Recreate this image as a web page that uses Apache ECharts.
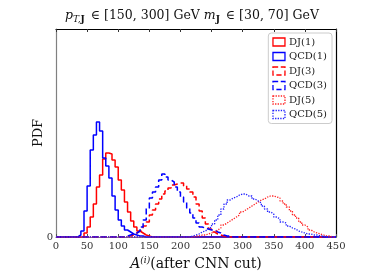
<!DOCTYPE html>
<html>
<head>
<meta charset="utf-8">
<script src="https://cdn.jsdelivr.net/npm/echarts@6/dist/echarts.min.js"></script>
<style>
html,body{margin:0;padding:0;background:#fff;}
#chart{width:374px;height:280px;}
</style>
</head>
<body>
<div id="chart"></div>
<script>
// histogram bins of width 5, values in arbitrary PDF units
var binWidth = 5;
var xMin = 0, xMax = 450;
var yMax = 208;
var xTicks = [0, 50, 100, 150, 200, 250, 300, 350, 400, 450];
var names = ['DJ(1)', 'QCD(1)', 'DJ(3)', 'QCD(3)', 'DJ(5)', 'QCD(5)'];

// first bin left edge + bin heights
var dj1Start = 45;
var dj1 = [4, 10, 20, 33, 50, 62, 78, 84, 83, 77, 70, 57, 47, 35, 25, 16, 10, 6, 4, 2, 1];
var qcd1Start = 35;
var qcd1 = [2, 6, 26, 51, 87, 102, 115, 106, 79, 71, 59, 41, 27, 17, 11, 7, 5, 3, 2, 1, 1];
var dj3Start = 110;
var dj3 = [1, 1, 2, 4, 6, 8, 11, 15, 22, 27, 33, 38, 43, 46, 49, 52, 53, 54, 54, 51, 48, 45, 40, 33, 26, 19, 13, 8, 5, 3, 2, 1];
var qcd3Start = 110;
var qcd3 = [1, 2, 3, 4, 6, 10, 17, 29, 39, 45, 50, 57, 63, 60, 57, 55, 50, 45, 40, 35, 29, 24, 19, 14, 10, 9, 8, 7, 7, 5, 4, 2, 1, 1];
var dj5Start = 220;
var dj5 = [1, 1, 2, 2, 3, 4, 5, 7, 9, 12, 14, 16, 18, 20, 22, 25, 27, 29, 31, 33, 35, 37, 38, 40, 41, 41, 40, 39, 36, 33, 30, 26, 22, 19, 15, 12, 10, 7, 5, 4, 3, 2, 1, 1];
var qcd5Start = 215;
var qcd5 = [1, 2, 3, 5, 6, 8, 10, 13, 17, 22, 28, 33, 37, 39, 40, 42, 43, 43, 41, 41, 38, 36, 34, 31, 28, 25, 23, 20, 18, 15, 14, 11, 9, 8, 6, 5, 4, 3, 3, 2, 2, 1, 1];

var colors = ['#ff0000', '#0000ff', '#ff0000', '#0000ff', '#ff2020', '#2020ff'];
var lineTypes = ['solid', 'solid', 'dashed', 'dashed', 'dotted', 'dotted'];
var serif = '"DejaVu Serif", "Liberation Serif", serif';

// pad with zeros over the full range, one point per bin left edge, step drawn by the library
function histPoints(start, vals) {
    var pts = [];
    for (var x = xMin; x < xMax; x += binWidth) {
        var i = Math.round((x - start) / binWidth);
        var v = (i >= 0 && i < vals.length) ? vals[i] : 0;
        pts.push([x, v]);
    }
    pts.push([xMax, pts[pts.length - 1][1]]);
    return pts;
}

var hists = [[dj1Start, dj1], [qcd1Start, qcd1], [dj3Start, dj3], [qcd3Start, qcd3], [dj5Start, dj5], [qcd5Start, qcd5]];

var series = hists.map(function (h, k) {
    return {
        name: names[k],
        type: 'line',
        step: 'end',
        showSymbol: false,
        silent: true,
        data: histPoints(h[0], h[1]),
        lineStyle: {
            color: colors[k],
            width: lineTypes[k] === 'dotted' ? 1.3 : 1.5,
            type: lineTypes[k]
        },
        itemStyle: {color: colors[k]}
    };
});

var option = {
    animation: false,
    backgroundColor: '#fff',
    title: {
        text: '{i|p}{s|T,}{b|J} ∈ [150, 300] GeV {i|m}{b|J} ∈ [30, 70] GeV',
        left: 187,
        textAlign: 'center',
        top: 3,
        textStyle: {
            fontFamily: serif,
            fontSize: 12.5,
            fontWeight: 'normal',
            color: '#111',
            rich: {
                i: {fontFamily: serif, fontSize: 12.5, fontStyle: 'italic', color: '#111'},
                s: {fontFamily: serif, fontSize: 9, fontStyle: 'italic', color: '#111', padding: [7, 0, 0, 0]},
                b: {fontFamily: serif, fontSize: 9, fontWeight: 'bold', color: '#111', padding: [7, 2, 0, 0]}
            }
        }
    },
    legend: {
        right: 42,
        top: 33,
        orient: 'vertical',
        icon: 'rect',
        itemWidth: 12,
        itemHeight: 8,
        itemGap: 4.5,
        padding: [4, 5, 4, 4],
        backgroundColor: '#fff',
        borderColor: '#cccccc',
        borderWidth: 1,
        borderRadius: 3,
        textStyle: {fontFamily: serif, fontSize: 10, color: '#222', padding: [0, 0, 0, -1]},
        data: names.map(function (n, k) {
            return {
                name: n,
                itemStyle: {color: 'transparent', borderColor: colors[k], borderWidth: 1.3, borderType: lineTypes[k]}
            };
        })
    },
    grid: {left: 56, right: 38, top: 29, bottom: 43},
    xAxis: [{
        type: 'value',
        min: xMin,
        max: xMax,
        interval: 50,
        name: '{i|A}{s|(i)}(after CNN cut)',
        nameLocation: 'middle',
        nameGap: 19,
        nameTextStyle: {
            fontFamily: serif, fontSize: 14, color: '#111',
            rich: {
                i: {fontFamily: serif, fontSize: 14, fontStyle: 'italic', color: '#111'},
                s: {fontFamily: serif, fontSize: 9, fontStyle: 'italic', color: '#111', padding: [0, 0, 8, 0]}
            }
        },
        axisLine: {onZero: false, lineStyle: {color: '#808080', width: 1.2}},
        axisTick: {inside: true, length: 3, lineStyle: {color: '#555'}},
        axisLabel: {
            fontFamily: serif, fontSize: 10, color: '#333', margin: 4,
            formatter: function (v) { return xTicks.indexOf(v) >= 0 ? String(v) : ''; }
        },
        splitLine: {show: false}
    }, {
        type: 'value',
        position: 'top',
        min: xMin,
        max: xMax,
        interval: 50,
        axisLine: {show: true, onZero: false, lineStyle: {color: '#000', width: 1.2}},
        axisTick: {show: true, inside: true, length: 3, lineStyle: {color: '#333'}},
        axisLabel: {show: false},
        splitLine: {show: false}
    }],
    yAxis: [{
        type: 'value',
        min: 0,
        max: yMax,
        interval: yMax,
        name: 'PDF',
        nameLocation: 'middle',
        nameGap: 11,
        nameMoveOverlap: false,
        nameRotate: 90,
        nameTextStyle: {fontFamily: serif, fontSize: 13, color: '#111'},
        axisLine: {show: true, onZero: false, lineStyle: {color: '#808080', width: 1.2}},
        axisTick: {show: false},
        axisLabel: {
            fontFamily: serif, fontSize: 10, color: '#333', margin: 3,
            formatter: function (v) { return v === 0 ? '0' : ''; }
        },
        splitLine: {show: false}
    }, {
        type: 'value',
        position: 'right',
        min: 0,
        max: yMax,
        axisLine: {show: true, onZero: false, lineStyle: {color: '#000', width: 1.2}},
        axisTick: {show: false},
        axisLabel: {show: false},
        splitLine: {show: false}
    }],
    series: series
};

var chart = echarts.init(document.getElementById('chart'), null, {renderer: 'canvas'});
chart.setOption(option);
</script>
</body>
</html>
